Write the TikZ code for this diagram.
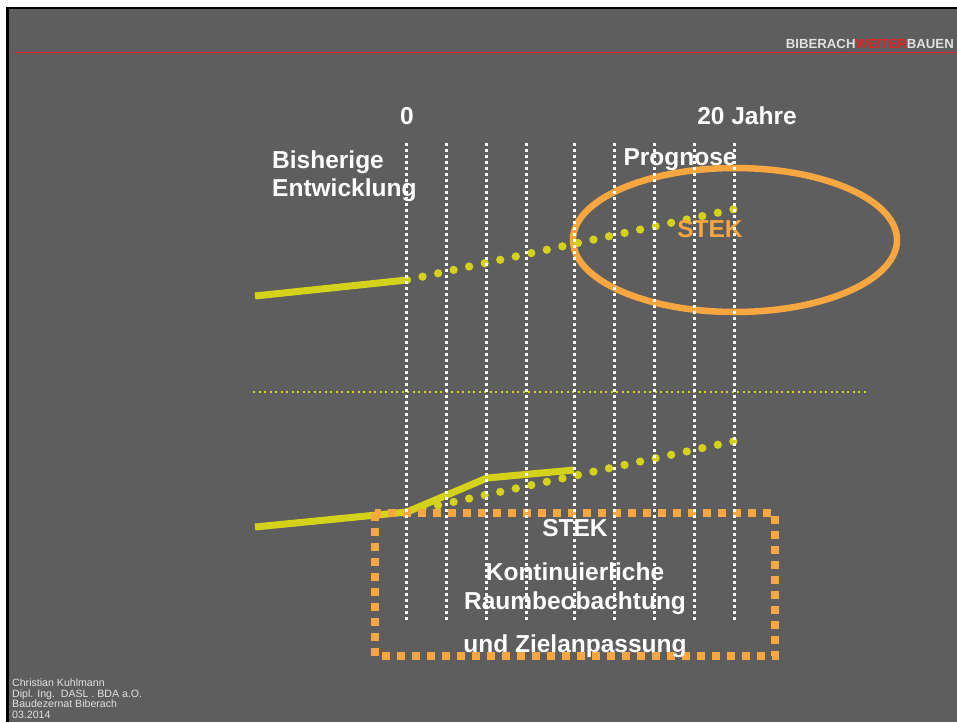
\documentclass[tikz,border=0pt]{standalone}
\usepackage{fontspec}
\setmainfont{Liberation Sans}
\definecolor{bg}{RGB}{94,94,94}
\definecolor{ylw}{RGB}{212,210,26}
\definecolor{org}{RGB}{247,166,64}
\definecolor{hred}{RGB}{232,32,36}
\definecolor{lgray}{RGB}{225,225,225}
\begin{document}
\begin{tikzpicture}[x=1pt,y=-1pt,
  big/.style={font=\fontsize{24.5}{26}\selectfont\bfseries, text=white, inner sep=0pt, anchor=base},
  foot/.style={font=\fontsize{10.6}{11}\selectfont, text=lgray, inner sep=0pt, anchor=base west},
  vgrid/.style={white, line width=2.2pt, dash pattern=on 3pt off 3pt},
  solidcurve/.style={ylw, line width=7pt, line join=miter},
  dotcurve/.style={ylw, line width=8.3pt, line cap=round, dash pattern=on 0pt off 15.9pt},
  hdots/.style={ylw, line width=1.8pt, dash pattern=on 2pt off 3.5pt},
  orgbox/.style={org, line width=8pt, dash pattern=on 8pt off 7pt},
  ringstyle/.style={org, line width=6.5pt}]
\useasboundingbox (0,0) rectangle (957,722);
\fill[white] (0,0) rectangle (957,722);
\fill[black] (6,7) rectangle (957,722);
\fill[bg] (8.5,9.5) rectangle (957,722);
% header
\draw[hred, line width=1.4pt] (15,52.5) -- (957,52.5);
\node[font=\fontsize{13.2}{13}\selectfont\bfseries, inner sep=0pt, anchor=base east] (brand) at (954,49)
  {\textcolor{lgray}{BIBERACH}\textcolor{hred}{WEITER}\textcolor{lgray}{BAUEN}};
% footer
\node[foot] (f1) at (12,686.5) {Christian Kuhlmann};
\node[foot] (f2) at (12,697) {Dipl. Ing.\ \ DASL . BDA a.O.};
\node[foot] (f3) at (12,707.5) {Baudezernat Biberach};
\node[foot] (f4) at (12,718) {03.2014};
% ellipse
\draw[ringstyle] (735,240) ellipse [x radius=162, y radius=72];
% horizontal separator
\draw[hdots] (253,392) -- (868,392);
% coordinates of curves
\coordinate (a0) at (255,296);
\coordinate (a1) at (407,280);
\coordinate (a2) at (735,209);
\coordinate (b0) at (255,527);
\coordinate (b1) at (407,512);
\coordinate (b2) at (487,478);
\coordinate (b3) at (574,470);
\coordinate (b4) at (735,441);
\draw[solidcurve] (a0) -- (a1);
\draw[dotcurve] (a1) -- (a2);
\draw[dotcurve] (b1) -- (b4);
\draw[solidcurve] (b0) -- (b1) -- (b2) -- (b3);
% orange dotted box
\draw[orgbox] (375,513) rectangle (775,656);
% texts
\node[big] (zero) at (407,125) {0};
\node[big] (jahre) at (747,125) {20 Jahre};
\node[big, anchor=base west] (bis) at (272,168) {Bisherige};
\node[big, anchor=base west] (entw) at (272,196) {Entwicklung};
\node[big] (prog) at (680,165) {Prognose};
\node[big, text=org] (stek1) at (710,237) {STEK};
\node[big] (stek2) at (575,536) {STEK};
\node[big] (kont) at (575,580) {Kontinuierliche};
\node[big] (raum) at (575,609) {Raumbeobachtung};
\node[big] (ziel) at (575,652) {und Zielanpassung};
% vertical grid lines
\foreach \x in {406.5,446.5,486.5,526.5,574.5,614.5,654.5,694.5,734.5}
  \draw[vgrid] (\x,143) -- (\x,620);
\end{tikzpicture}
\end{document}
